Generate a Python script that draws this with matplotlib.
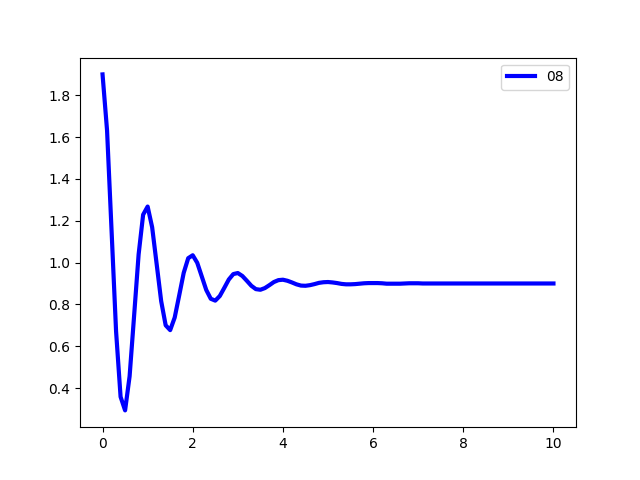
import matplotlib
matplotlib.use("Agg")
import matplotlib.pyplot as plt

t = [round(0.1 * i, 1) for i in range(101)]
response_head = [
    1.900, 1.632, 1.153, 0.671, 0.358, 0.293, 0.456, 0.746, 1.039, 1.229,
    1.268, 1.169, 0.993, 0.816, 0.700, 0.677, 0.737, 0.843, 0.951, 1.021,
    1.035, 0.999, 0.934, 0.869, 0.827, 0.818, 0.840, 0.879, 0.919, 0.945,
    0.950, 0.936, 0.913, 0.889, 0.873, 0.870, 0.878, 0.892, 0.907, 0.916,
    0.918, 0.913, 0.905, 0.896, 0.890, 0.889, 0.892, 0.897, 0.903, 0.906,
    0.907, 0.905, 0.902, 0.898, 0.896, 0.896, 0.897, 0.899, 0.901, 0.902,
    0.902, 0.902, 0.901, 0.899, 0.899, 0.899, 0.899, 0.900, 0.901, 0.901,
    0.901,
]
response = response_head + [0.900] * (len(t) - len(response_head))

fig, ax = plt.subplots(figsize=(6.4, 4.8), dpi=100)
ax.plot(t, response, color="blue", linewidth=3, label="08")
ax.legend(loc="upper right")
fig.savefig("out.png")
